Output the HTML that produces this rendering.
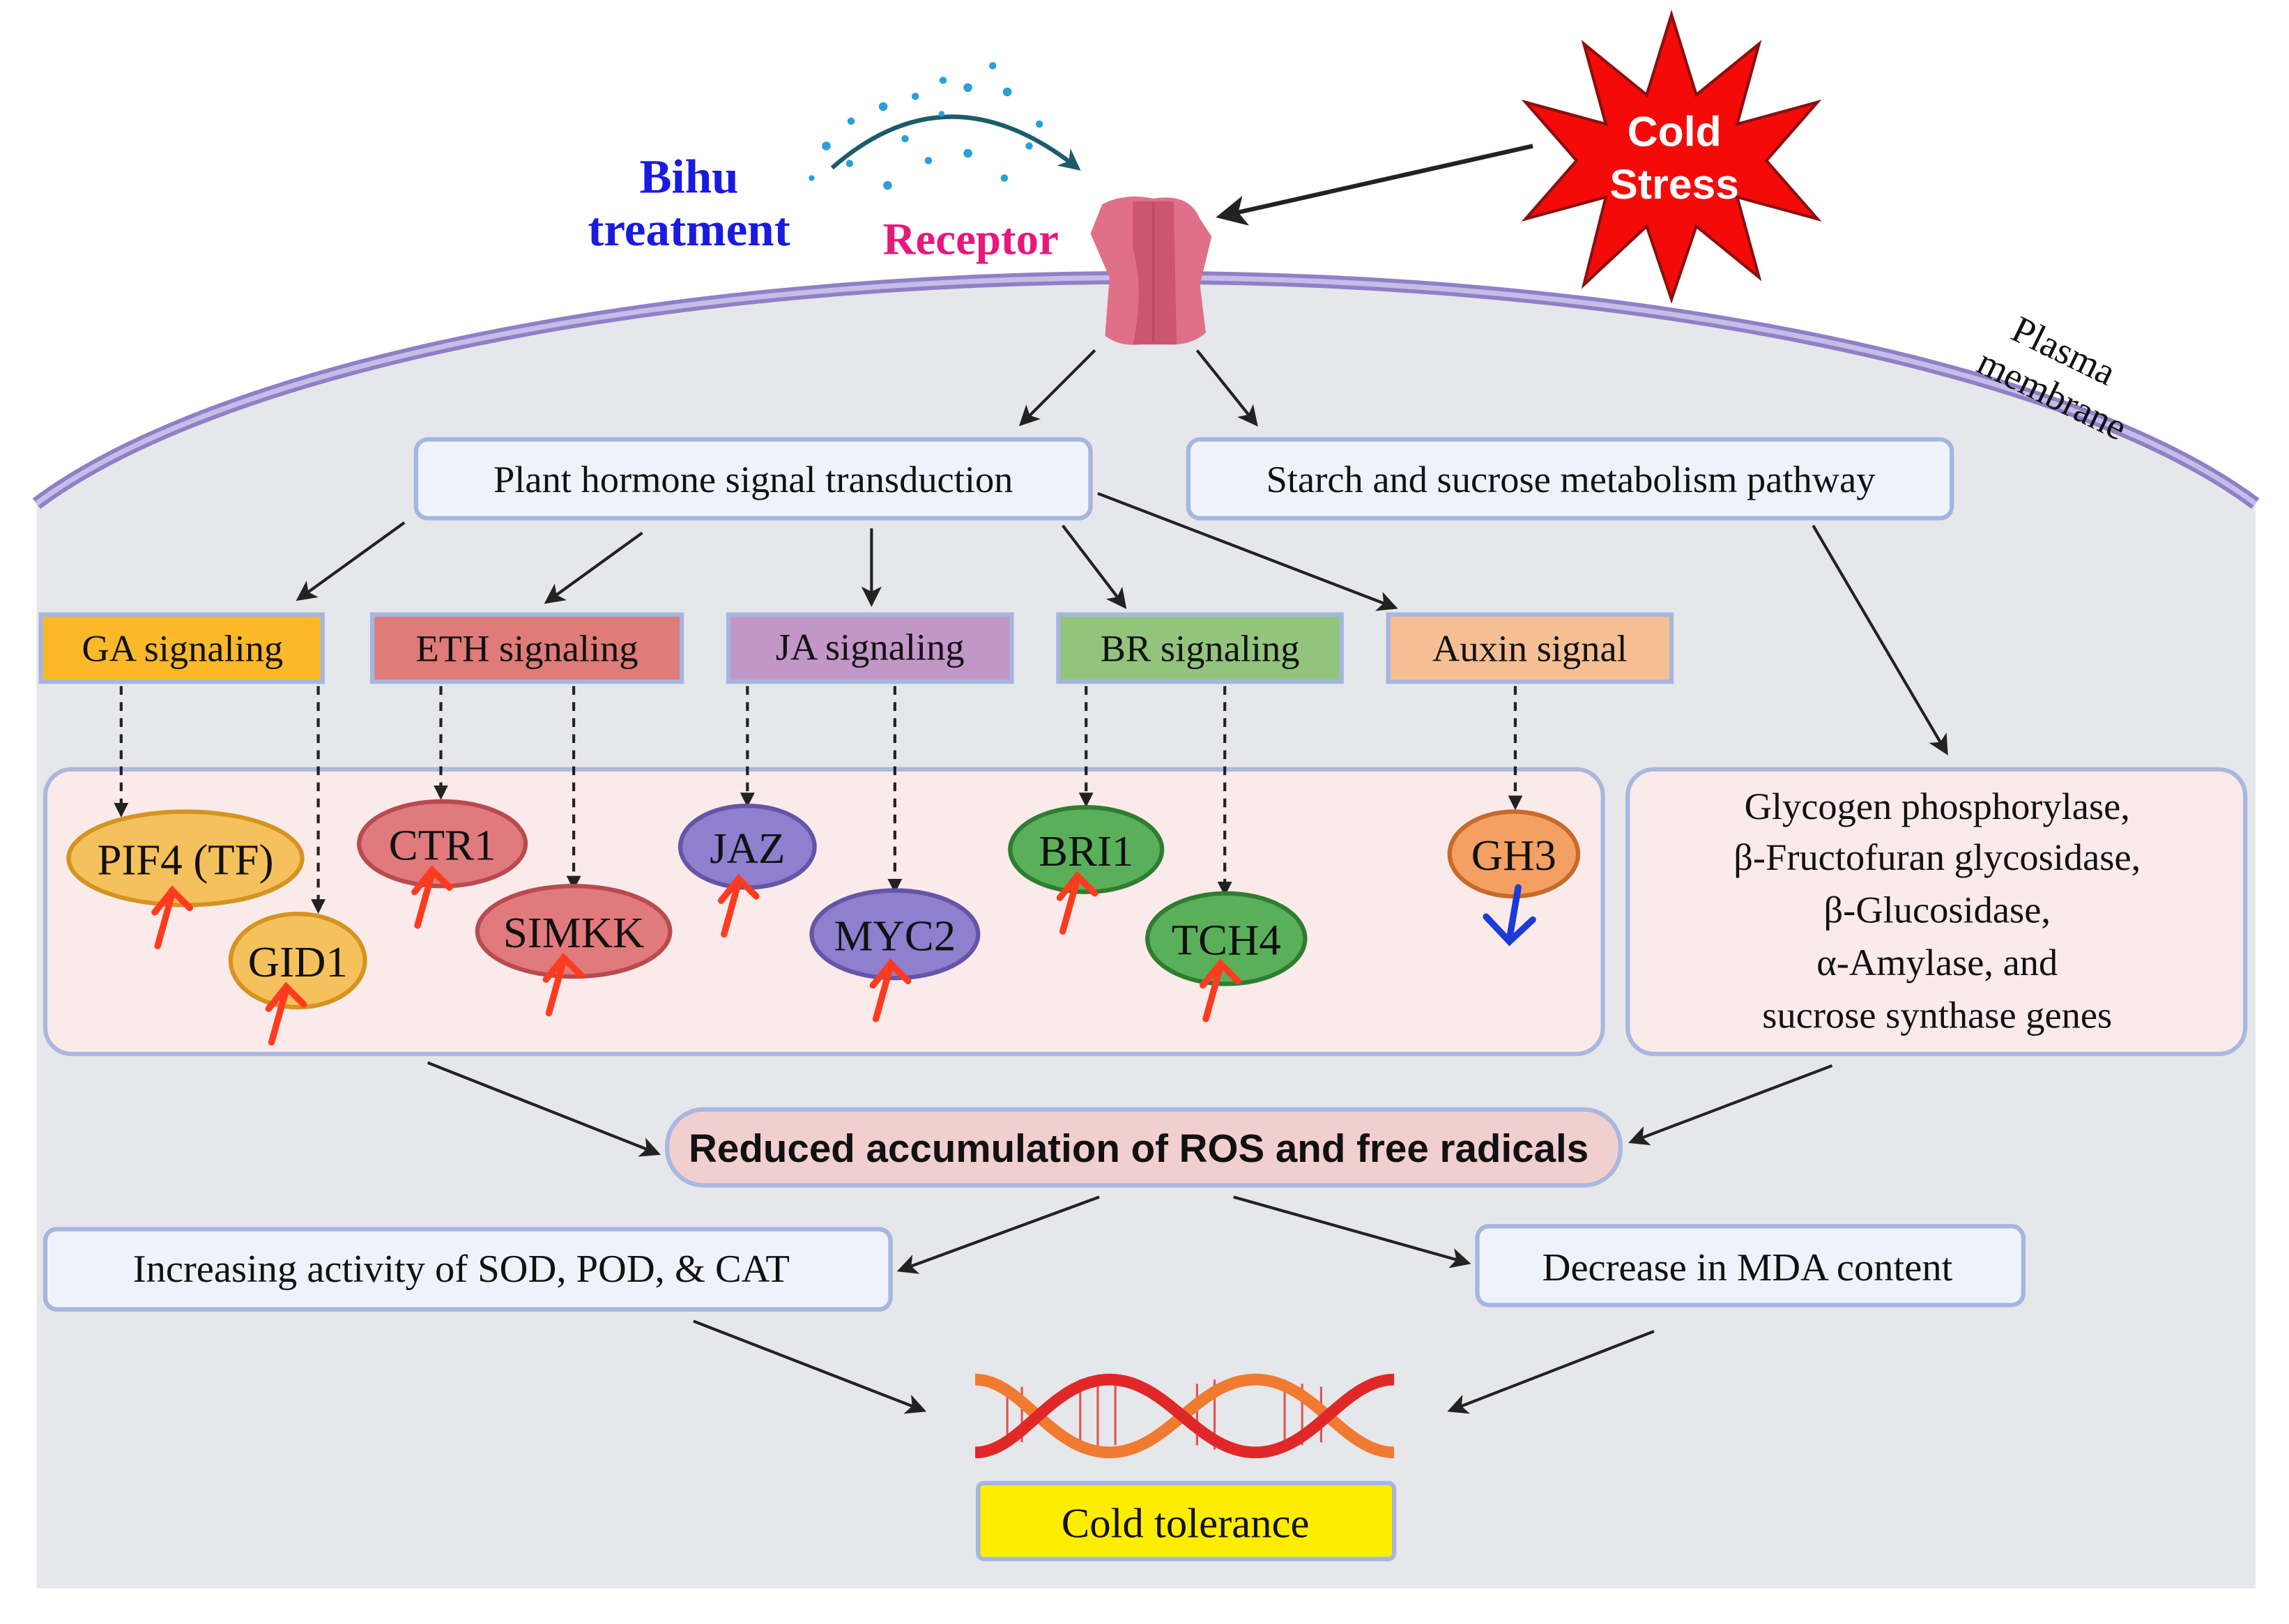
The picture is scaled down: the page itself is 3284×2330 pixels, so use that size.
<!DOCTYPE html>
<html><head><meta charset="utf-8"><style>
html,body{margin:0;padding:0;background:#fff;}
svg{display:block;}
.t{font-family:"Liberation Serif",serif;fill:#111;}
.b{font-family:"Liberation Sans",sans-serif;font-weight:bold;}
</style></head><body>
<svg width="3284" height="2330" viewBox="0 0 1568 1112.5" preserveAspectRatio="none" xmlns="http://www.w3.org/2000/svg">
<defs>
<marker id="ah" viewBox="0 0 10 10" refX="8" refY="5" markerWidth="7" markerHeight="7" orient="auto-start-reverse"><path d="M0,0 L10,5 L0,10 L2.5,5 z" fill="#222"/></marker>
<marker id="ad" viewBox="0 0 10 10" refX="8" refY="5" markerWidth="5" markerHeight="6" orient="auto"><path d="M0,0 L10,5 L0,10 z" fill="#222"/></marker>
<marker id="at" viewBox="0 0 10 10" refX="8" refY="5" markerWidth="5" markerHeight="5" orient="auto"><path d="M0,0 L10,5 L0,10 L3,5z" fill="#1d5b6c"/></marker>
</defs>
<rect width="1568" height="1112.5" fill="#fff"/>
<path d="M25,345 A820,248 0 0 1 1545,345 L1545,1088 L25,1088 Z" fill="#e6e7ea"/>
<path d="M25,345 A820,248 0 0 1 1545,345" fill="none" stroke="#8f80c6" stroke-width="9"/>
<path d="M25,345 A820,248 0 0 1 1545,345" fill="none" stroke="#c7bce8" stroke-width="3.5"/>
<!-- bihu -->
<text x="472" y="132" text-anchor="middle" class="t" style="fill:#1a1ae0;font-size:33px;font-weight:bold">Bihu</text>
<text x="472" y="168" text-anchor="middle" class="t" style="fill:#1a1ae0;font-size:33px;font-weight:bold">treatment</text>
<text x="665" y="174" text-anchor="middle" class="t" style="fill:#e8177c;font-size:31px;font-weight:bold">Receptor</text>
<path d="M570,115 Q650,45 738,115" fill="none" stroke="#1d5b6c" stroke-width="3" marker-end="url(#at)"/>
<g fill="#2aa0d8">
<circle cx="566" cy="100" r="3"/><circle cx="583" cy="83" r="2.5"/><circle cx="605" cy="73" r="3"/><circle cx="627" cy="66" r="2.5"/><circle cx="646" cy="55" r="2.5"/><circle cx="663" cy="60" r="3"/><circle cx="680" cy="45" r="2.5"/><circle cx="690" cy="63" r="3"/><circle cx="712" cy="85" r="2.5"/><circle cx="705" cy="100" r="2.5"/><circle cx="688" cy="122" r="2.5"/><circle cx="663" cy="105" r="3"/><circle cx="636" cy="110" r="2.5"/><circle cx="608" cy="127" r="3"/><circle cx="582" cy="112" r="2.5"/><circle cx="556" cy="122" r="2"/><circle cx="620" cy="95" r="2.5"/><circle cx="645" cy="78" r="2"/>
</g>
<!-- receptor -->
<path d="M755,140 Q770,132 790,136 Q815,132 822,150 L830,162 L822,195 L826,228 Q812,240 790,234 Q770,240 757,230 L760,190 L747,160 Z" fill="#e07088"/>
<path d="M776,138 L804,138 L806,236 L776,236 Q784,200 776,170 Z" fill="#cc5572"/>
<line x1="790" y1="138" x2="790" y2="234" stroke="#b84462" stroke-width="1"/>
<!-- star -->
<polygon points="1145,10 1162,65 1205,30 1190,85 1245,70 1210,110 1245,150 1190,135 1205,190 1162,155 1145,205 1128,155 1085,195 1100,135 1045,150 1080,110 1045,70 1100,85 1085,30 1128,65" fill="#f50a0a" stroke="#8a1010" stroke-width="2"/>
<text x="1147" y="100" text-anchor="middle" class="b" style="fill:#fff;font-size:29px">Cold</text>
<text x="1147" y="136" text-anchor="middle" class="b" style="fill:#fff;font-size:29px">Stress</text>
<line x1="1050" y1="100" x2="837" y2="148" stroke="#222" stroke-width="3" marker-end="url(#ah)"/>
<text transform="translate(1410,248) rotate(26)" text-anchor="middle" class="t" style="font-size:26px">Plasma</text>
<text transform="translate(1402,278) rotate(26)" text-anchor="middle" class="t" style="font-size:26px">membrane</text>
<g stroke="#222" stroke-width="2" marker-end="url(#ah)">
<line x1="750" y1="240" x2="700" y2="290"/>
<line x1="820" y1="240" x2="860" y2="290"/>
<line x1="277" y1="358" x2="205" y2="410"/>
<line x1="440" y1="365" x2="375" y2="412"/>
<line x1="597" y1="362" x2="597" y2="413"/>
<line x1="728" y1="360" x2="770" y2="415"/>
<line x1="752" y1="338" x2="955" y2="416"/>
<line x1="1242" y1="360" x2="1333" y2="515"/>
<line x1="293" y1="728" x2="450" y2="790"/>
<line x1="1255" y1="730" x2="1118" y2="782"/>
<line x1="753" y1="820" x2="617" y2="870"/>
<line x1="845" y1="820" x2="1005" y2="865"/>
<line x1="475" y1="905" x2="632" y2="966"/>
<line x1="1133" y1="912" x2="994" y2="966"/>
</g>
<g stroke="#a5b6df" stroke-width="3">
<rect x="285" y="301" width="462" height="54" rx="8" fill="#eef3fb"/>
<rect x="814" y="301" width="523" height="54" rx="8" fill="#eef3fb"/>
</g>
<text x="516" y="337" text-anchor="middle" class="t" style="font-size:26px">Plant hormone signal transduction</text>
<text x="1076" y="337" text-anchor="middle" class="t" style="font-size:26px">Starch and sucrose metabolism pathway</text>
<g stroke="#a5b6df" stroke-width="3">
<rect x="28" y="421" width="193" height="46" fill="#fbb829"/>
<rect x="255" y="421" width="212" height="46" fill="#df7b78"/>
<rect x="499" y="421" width="194" height="46" fill="#c396c8"/>
<rect x="725" y="421" width="194" height="46" fill="#93c47e"/>
<rect x="951" y="421" width="194" height="46" fill="#f5bf93"/>
</g>
<g class="t" style="font-size:26px" text-anchor="middle">
<text x="125" y="453">GA signaling</text>
<text x="361" y="453">ETH signaling</text>
<text x="596" y="452">JA signaling</text>
<text x="822" y="453">BR signaling</text>
<text x="1048" y="453">Auxin signal</text>
</g>
<rect x="31" y="527" width="1067" height="195" rx="18" fill="#fbeaea" stroke="#a8b8df" stroke-width="3"/>
<rect x="1115" y="527" width="423" height="195" rx="18" fill="#fbeaea" stroke="#a8b8df" stroke-width="3"/>
<g stroke="#222" stroke-width="2" stroke-dasharray="6,5" marker-end="url(#ad)">
<line x1="83" y1="470" x2="83" y2="558"/>
<line x1="218" y1="470" x2="218" y2="624"/>
<line x1="302" y1="470" x2="302" y2="546"/>
<line x1="393" y1="470" x2="393" y2="608"/>
<line x1="512" y1="470" x2="512" y2="551"/>
<line x1="613" y1="470" x2="613" y2="610"/>
<line x1="744" y1="470" x2="744" y2="551"/>
<line x1="839" y1="470" x2="839" y2="612"/>
<line x1="1038" y1="470" x2="1038" y2="553"/>
</g>
<g stroke-width="3">
<ellipse cx="127" cy="588" rx="80" ry="32" fill="#f5c15c" stroke="#d59320"/>
<ellipse cx="204" cy="658" rx="46" ry="32" fill="#f5c15c" stroke="#d59320"/>
<ellipse cx="303" cy="578" rx="57" ry="29" fill="#e07a7c" stroke="#b84a50"/>
<ellipse cx="393" cy="638" rx="66" ry="31" fill="#e07a7c" stroke="#b84a50"/>
<ellipse cx="512" cy="580" rx="46" ry="28" fill="#8e7fcf" stroke="#6455a8"/>
<ellipse cx="613" cy="640" rx="57" ry="30" fill="#8e7fcf" stroke="#6455a8"/>
<ellipse cx="744" cy="582" rx="52" ry="29" fill="#5ab05a" stroke="#2f7d30"/>
<ellipse cx="840" cy="643" rx="54" ry="31" fill="#5ab05a" stroke="#2f7d30"/>
<ellipse cx="1037" cy="585" rx="44" ry="29" fill="#f3a062" stroke="#c86a2a"/>
</g>
<g class="t" style="font-size:30px" text-anchor="middle">
<text x="127" y="599">PIF4 (TF)</text>
<text x="204" y="669">GID1</text>
<text x="303" y="589">CTR1</text>
<text x="393" y="649">SIMKK</text>
<text x="512" y="591">JAZ</text>
<text x="613" y="651">MYC2</text>
<text x="744" y="593">BRI1</text>
<text x="840" y="654">TCH4</text>
<text x="1037" y="596">GH3</text>
</g>
<g stroke="#ff3b1f" stroke-width="4.5" fill="none" stroke-linecap="round">
<path d="M108,648 L118,612 M106,625 L118,610 L130,622"/>
<path d="M186,714 L196,678 M184,691 L196,676 L208,688"/>
<path d="M286,634 L296,598 M284,611 L296,596 L308,608"/>
<path d="M376,694 L386,658 M374,671 L386,656 L398,668"/>
<path d="M496,640 L506,604 M494,617 L506,602 L518,614"/>
<path d="M600,698 L610,662 M598,675 L610,660 L622,672"/>
<path d="M728,638 L738,602 M726,615 L738,600 L750,612"/>
<path d="M826,698 L836,662 M824,675 L836,660 L848,672"/>
</g>
<path d="M1040,608 L1034,643 M1018,628 L1034,645 L1050,630" stroke="#1a3bd6" stroke-width="4.5" fill="none" stroke-linecap="round"/>
<g class="t" style="font-size:26px" text-anchor="middle">
<text x="1327" y="561">Glycogen phosphorylase,</text>
<text x="1327" y="596">β-Fructofuran glycosidase,</text>
<text x="1327" y="632">β-Glucosidase,</text>
<text x="1327" y="668">α-Amylase, and</text>
<text x="1327" y="704">sucrose synthase genes</text>
</g>
<rect x="457" y="760" width="653" height="52" rx="25" fill="#f2cfcf" stroke="#a8b8df" stroke-width="3"/>
<text x="780" y="796" text-anchor="middle" class="b" style="font-size:27px;fill:#111">Reduced accumulation of ROS and free radicals</text>
<rect x="31" y="842" width="579" height="55" rx="8" fill="#eef3fb" stroke="#a5b6df" stroke-width="3"/>
<text x="316" y="878" text-anchor="middle" class="t" style="font-size:27px">Increasing activity of SOD, POD, &amp; CAT</text>
<rect x="1012" y="840" width="374" height="54" rx="8" fill="#eef3fb" stroke="#a5b6df" stroke-width="3"/>
<text x="1197" y="877" text-anchor="middle" class="t" style="font-size:27px">Decrease in MDA content</text>
<!-- DNA -->
<g stroke="#e03030" stroke-width="1.5" opacity="0.8">
<line x1="690" y1="948" x2="690" y2="990"/><line x1="700" y1="950" x2="700" y2="988"/><line x1="740" y1="945" x2="740" y2="993"/><line x1="752" y1="945" x2="752" y2="993"/><line x1="764" y1="948" x2="764" y2="990"/><line x1="820" y1="948" x2="820" y2="990"/><line x1="832" y1="945" x2="832" y2="993"/><line x1="880" y1="945" x2="880" y2="993"/><line x1="892" y1="948" x2="892" y2="990"/><line x1="905" y1="950" x2="905" y2="988"/>
</g>
<path d="M668,945 C700,945 720,995 760,995 S820,945 860,945 S920,995 955,995" fill="none" stroke="#f07a30" stroke-width="8"/>
<path d="M668,995 C700,995 720,945 760,945 S820,995 860,995 S920,945 955,945" fill="none" stroke="#e02828" stroke-width="8"/>
<rect x="670" y="1016" width="285" height="52" rx="4" fill="#ffed00" stroke="#a5b6df" stroke-width="3"/>
<text x="812" y="1053" text-anchor="middle" class="t" style="font-size:29px">Cold tolerance</text>
</svg>
</body></html>
